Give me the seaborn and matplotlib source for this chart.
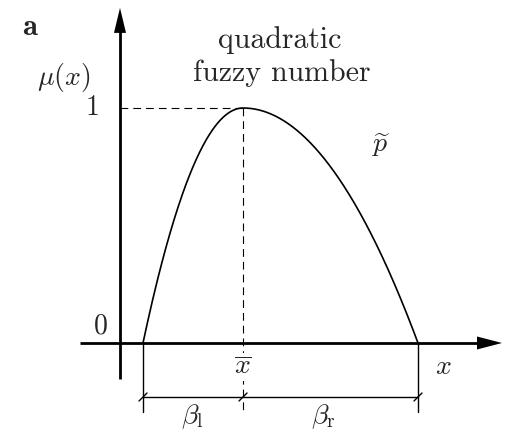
import numpy as np
import pandas as pd
import matplotlib
matplotlib.use("Agg")
import matplotlib.pyplot as plt
import seaborn as sns

# ---- data (data units) ----
support_left = 0.23     # start of support
peak_x = 1.23           # x-bar (mode)
support_right = 2.98    # end of support
peak_mu = 1.0
beta_l = peak_x - support_left
beta_r = support_right - peak_x
tick_labels_y = ["0", "1"]
labels = {"xbar": r"$\overline{x}$", "x": r"$x$", "mu": r"$\mu(x)$",
          "p": r"$\widetilde{p}$", "bl": r"$\beta_{\mathrm{l}}$", "br": r"$\beta_{\mathrm{r}}$"}
title_lines = ["quadratic", "fuzzy number"]

# quadratic membership function defined by the read parameters
xs = np.linspace(support_left, support_right, 400)
mu = np.where(xs <= peak_x,
              peak_mu * (1 - ((xs - peak_x) / beta_l) ** 2),
              peak_mu * (1 - ((xs - peak_x) / beta_r) ** 2))
df = pd.DataFrame({"x": xs, "mu": mu})

sns.set_theme(style="white")
plt.rcParams["mathtext.fontset"] = "cm"
plt.rcParams["font.family"] = ["cmr10", "DejaVu Serif"]
plt.rcParams["axes.formatter.use_mathtext"] = True

fig = plt.figure(figsize=(5.05, 4.33), dpi=100)
ax = fig.add_axes([0, 0, 1, 1])
ax.set_xlim(-1.20, 3.85)
ax.set_ylim(-0.383, 1.4596)
ax.axis("off")

px_x = 0.01   # one pixel in x data units
px_y = 1 / 235.0

# curve
sns.lineplot(data=df, x="x", y="mu", ax=ax, color="black", lw=1.2, sort=False, legend=False)

# axes with arrows
x_axis_start, x_axis_end = -0.40, 3.82
y_axis_start, y_axis_end = -0.153, 1.426
ax.plot([x_axis_start, x_axis_end - 20 * px_x], [0, 0], color="black", lw=2.0, solid_capstyle="butt")
ax.plot([0, 0], [y_axis_start, y_axis_end - 20 * px_y], color="black", lw=2.0, solid_capstyle="butt")
ax.fill([x_axis_end - 25 * px_x, x_axis_end, x_axis_end - 25 * px_x],
        [6.5 * px_y, 0, -6.5 * px_y], color="black", lw=0)
ax.fill([-6 * px_x, 0, 6 * px_x],
        [y_axis_end - 25 * px_y, y_axis_end, y_axis_end - 25 * px_y], color="black", lw=0)

# dashed guide lines
dim_y = -0.2298
ext_y = -0.2936
ax.plot([0, peak_x], [peak_mu, peak_mu], color="black", lw=0.8, linestyle=(0, (7, 4.5)))
ax.plot([peak_x, peak_x], [peak_mu, ext_y], color="black", lw=0.8, linestyle=(0, (7, 4.5)))

# extension lines and dimension line
for xe in (support_left, support_right):
    ax.plot([xe, xe], [0, ext_y], color="black", lw=1.0)
ax.plot([support_left, support_right], [dim_y, dim_y], color="black", lw=1.0)
for xe in (support_left, peak_x, support_right):
    ax.plot([xe - 4 * px_x, xe + 4 * px_x], [dim_y - 4 * px_y, dim_y + 4 * px_y], color="black", lw=1.0)

fs = 20
ft = 21.5
ax.text(-0.90, 1.345, r"$\mathbf{a}$", fontsize=22, ha="center", va="center")
ax.text(-0.56, 1.130, labels["mu"], fontsize=fs, ha="center", va="center")
ax.text(-0.27, 1.0, tick_labels_y[1], fontsize=fs, ha="center", va="center")
ax.text(-0.19, 0.072, tick_labels_y[0], fontsize=fs, ha="center", va="center")
ax.text(1.60, 1.289, title_lines[0], fontsize=ft, ha="center", va="center")
ax.text(1.62, 1.149, title_lines[1], fontsize=ft, ha="center", va="center")
ax.text(2.61, 0.843, labels["p"], fontsize=fs, ha="center", va="center")
ax.text(peak_x, -0.102, labels["xbar"], fontsize=fs, ha="center", va="center",
        bbox=dict(facecolor="white", edgecolor="none", pad=0.5))
ax.text(3.23, -0.102, labels["x"], fontsize=fs, ha="center", va="center")
ax.text(support_left + beta_l / 2 - 0.005, -0.312, labels["bl"], fontsize=fs, ha="center", va="center")
ax.text(peak_x + beta_r / 2 - 0.075, -0.312, labels["br"], fontsize=fs, ha="center", va="center")

fig.savefig("out.png", dpi=100)
